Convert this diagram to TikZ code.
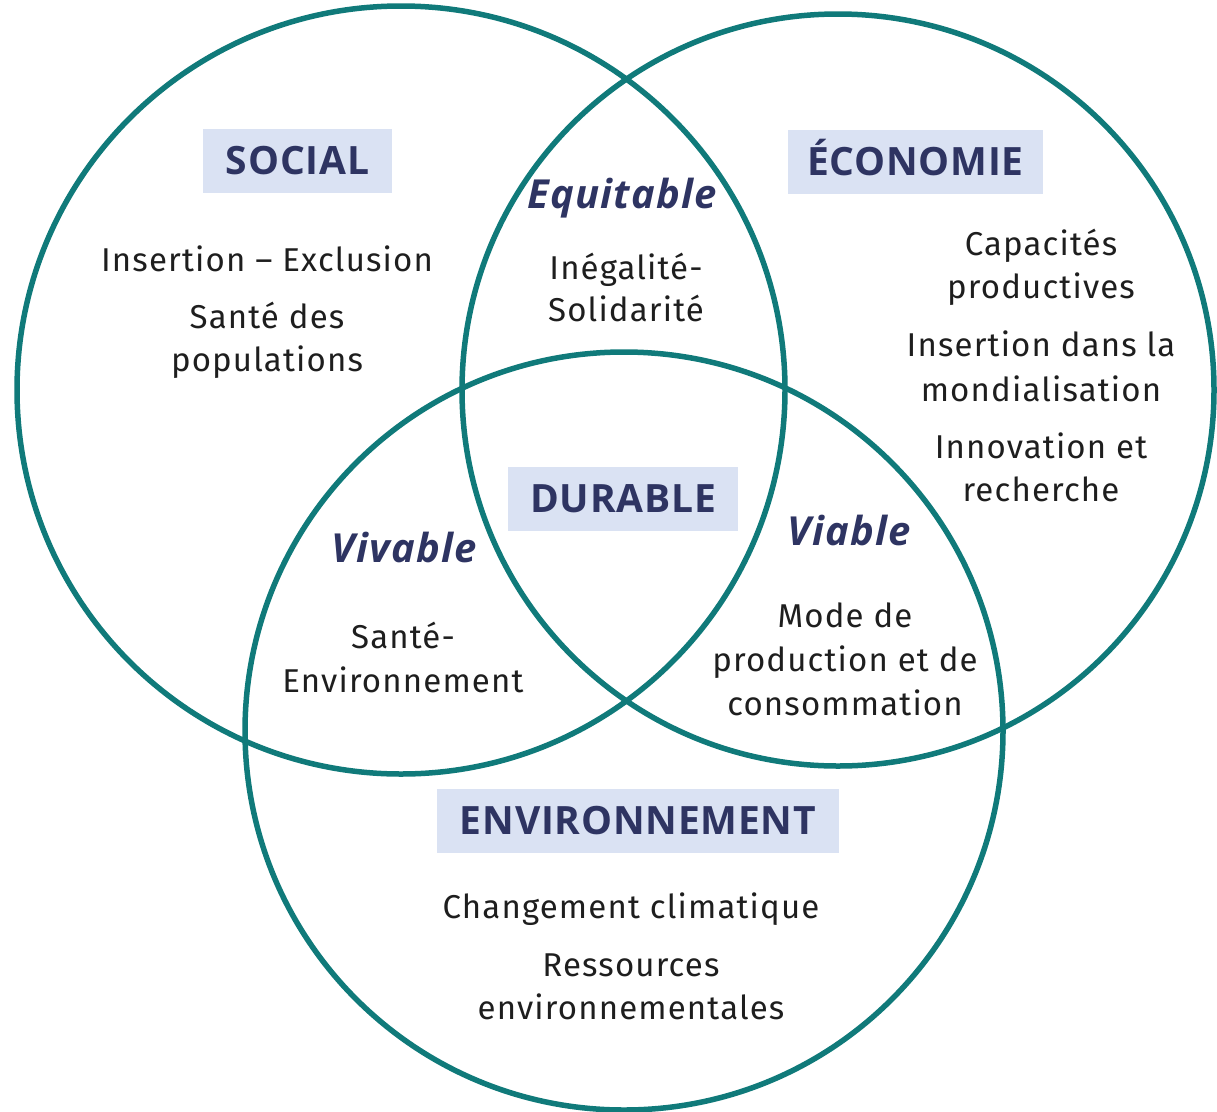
\documentclass[tikz,border=0pt]{standalone}
\usepackage{fontspec}
\setmainfont{Fira Sans}[LetterSpace=3.5]
\newfontfamily\headfont{Open Sans}[LetterSpace=2]
\newfontfamily\qualfont{Open Sans}[LetterSpace=3]
\usepackage{xcolor}

\definecolor{ringteal}{RGB}{16,122,122}
\definecolor{headnavy}{RGB}{46,52,98}
\definecolor{headfill}{RGB}{218,226,243}
\definecolor{topicgrey}{RGB}{30,30,30}

\begin{document}
\begin{tikzpicture}[x=1pt,y=-1pt]
    \tikzstyle{pillar}=[draw=ringteal,line width=5.5pt]
    \tikzstyle{heading}=[fill=headfill,text=headnavy,font=\headfont\bfseries\fontsize{39}{41}\selectfont,
        minimum height=64pt,text height=27pt,text depth=0pt,inner sep=0pt]
    \tikzstyle{quality}=[anchor=base,text=headnavy,font=\qualfont\bfseries\itshape\fontsize{40}{42}\selectfont]
    \tikzstyle{topic}=[anchor=base,text=topicgrey,inner sep=0pt,font=\fontsize{33}{38}\selectfont]

    \useasboundingbox (0,0) rectangle (1217,1111);

    % The three pillars
    \foreach \name / \x / \y / \r in {soc/401/390/384,eco/838/390/376,env/624/731/379}
        \draw[pillar] (\x,\y) circle (\r pt);

    % Pillar headings
    \node[heading,minimum width=189pt] (social) at (297.5,160.5) {SOCIAL};
    \node[heading,minimum width=255pt] (economie) at (915.5,162) {ÉCONOMIE};
    \node[heading,minimum width=230pt] (durable) at (623,498.5) {DURABLE};
    \node[heading,minimum width=402pt] (environnement) at (638,820.5) {ENVIRONNEMENT};

    % Where two pillars meet
    \node[quality] (equitable) at (622,208) {Equitable};
    \node[quality] (vivable) at (404,562) {Vivable};
    \node[quality] (viable) at (849,545) {Viable};

    % Topics of the social pillar
    \foreach \name / \y / \words in {s-1/271/Insertion – Exclusion,s-2/328/Santé des,s-3/371/populations}
        \node[topic] (\name) at (267,\y) {\words};

    % Topics between social and economy
    \foreach \name / \y / \words in {q-1/279/Inégalité-,q-2/321/Solidarité}
        \node[topic] (\name) at (626,\y) {\words};

    % Topics of the economic pillar
    \foreach \name / \y / \words in {e-1/255/Capacités,e-2/298/productives,e-3/356/Insertion dans la,
                                     e-4/401/mondialisation,e-5/458/Innovation et,e-6/501/recherche}
        \node[topic] (\name) at (1041,\y) {\words};

    % Topics between social and environment
    \foreach \name / \y / \words in {l-1/648/Santé-,l-2/692/Environnement}
        \node[topic] (\name) at (403,\y) {\words};

    % Topics between economy and environment
    \foreach \name / \y / \words in {v-1/627/Mode de,v-2/671/production et de,v-3/715/consommation}
        \node[topic] (\name) at (845,\y) {\words};

    % Topics of the environmental pillar
    \foreach \name / \y / \words in {n-1/918/Changement climatique,n-2/976/Ressources,n-3/1019/environnementales}
        \node[topic] (\name) at (631,\y) {\words};

\end{tikzpicture}
\end{document}
